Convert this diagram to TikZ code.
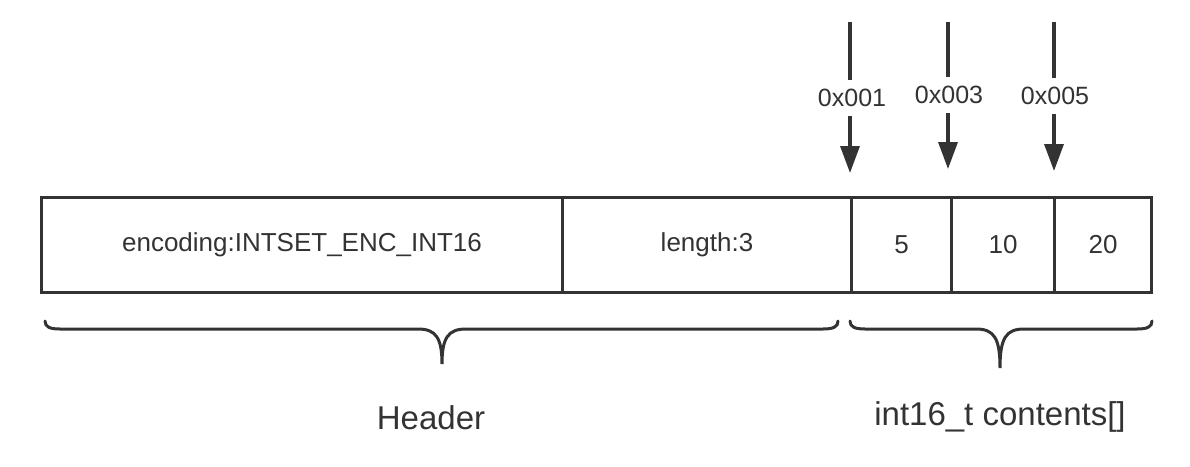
\documentclass[tikz,border=0pt]{standalone}
\usepackage{fontspec}
\setmainfont{Liberation Sans}
\usetikzlibrary{arrows.meta}
\definecolor{ink}{HTML}{333333}
\begin{document}
\begin{tikzpicture}[x=1pt,y=-1pt,
  cell/.style={draw=ink,line width=3pt,minimum height=95pt,inner sep=0pt,anchor=north west,text=ink,font=\fontsize{26}{30}\selectfont},
  ptr/.style={draw=ink,line width=3.5pt,-{Triangle[length=27pt,width=19pt]}},
  ptrlabel/.style={fill=white,text=ink,inner xsep=2pt,inner ysep=9pt,font=\fontsize{25}{29}\selectfont},
  brace/.style={draw=ink,line width=3pt,line cap=round},
  biglabel/.style={text=ink,font=\fontsize{33}{38}\selectfont}]
\useasboundingbox (0,0) rectangle (1190,466);
% cells
\node[cell,minimum width=521pt] (enc) at (40,196) {encoding:INTSET\_ENC\_INT16};
\node[cell,minimum width=289pt] (len) at (561,196) {length:3};
\node[cell,minimum width=100pt] (c1) at (850,196) {5};
\node[cell,minimum width=103pt] (c2) at (950,196) {10};
\node[cell,minimum width=97pt] (c3) at (1053,196) {20};
% pointers
\coordinate (t1) at (850,22); \coordinate (h1) at (850,173);
\coordinate (t2) at (948,22); \coordinate (h2) at (948,169);
\coordinate (t3) at (1054,22); \coordinate (h3) at (1054,171);
\draw[ptr] (t1) -- (h1);
\draw[ptr] (t2) -- (h2);
\draw[ptr] (t3) -- (h3);
\node[ptrlabel] (l1) at (852,98) {0x001};
\node[ptrlabel] (l2) at (949,95) {0x003};
\node[ptrlabel] (l3) at (1055,96) {0x005};
% braces
\draw[brace] (45,321) .. controls (45,327) and (50,329) .. (60,329) -- (418,329)
  .. controls (436,329) and (442,338) .. (442,364)
  .. controls (442,338) and (448,329) .. (466,329) -- (823,329)
  .. controls (833,329) and (838,327) .. (838,321);
\draw[brace] (850,321) .. controls (850,327) and (855,329) .. (865,329) -- (976,329)
  .. controls (994,329) and (1000,338) .. (1000,368)
  .. controls (1000,338) and (1006,329) .. (1024,329) -- (1137,329)
  .. controls (1147,329) and (1152,327) .. (1152,321);
\node[biglabel] (hdr) at (431,418) {Header};
\node[biglabel] (cnt) at (1000,417) {int16\_t contents[]};
\end{tikzpicture}
\end{document}
